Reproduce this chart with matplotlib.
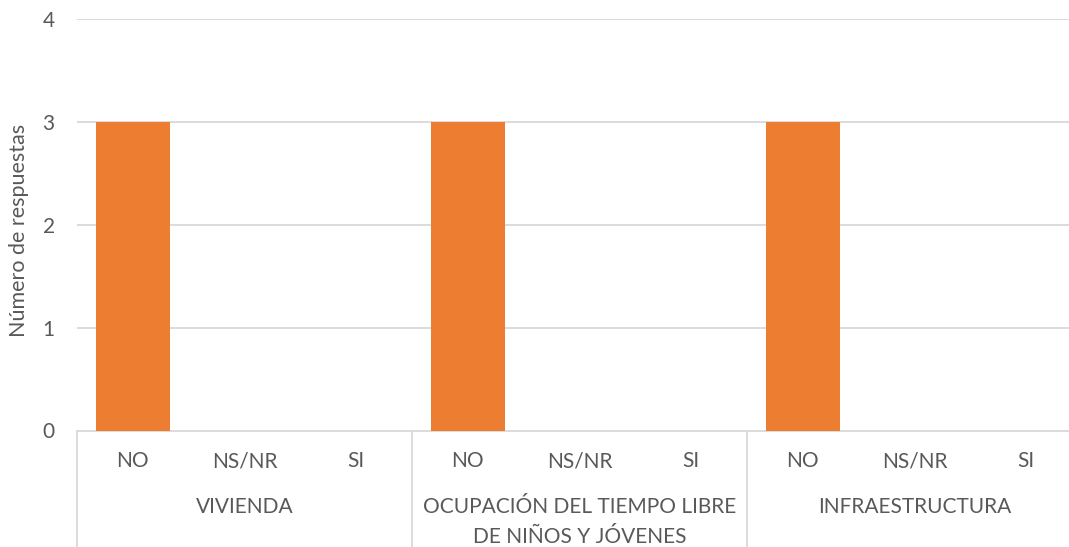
import matplotlib
matplotlib.use("Agg")
import matplotlib.pyplot as plt
from matplotlib.transforms import blended_transform_factory

groups = ["VIVIENDA", "OCUPACIÓN DEL TIEMPO LIBRE\nDE NIÑOS Y JÓVENES", "INFRAESTRUCTURA"]
answers = ["NO", "NS/NR", "SI"]
vivienda = [3, 0, 0]
ocupacion = [3, 0, 0]
infraestructura = [3, 0, 0]
series = [vivienda, ocupacion, infraestructura]
y_ticks = [0, 1, 2, 3, 4]
y_label = "Número de respuestas"

BAR = "#ED7D31"
TXT = "#595959"
GRID = "#D9D9D9"
FONT = "Lato"
FS = 15

W, H = 1069, 547
fig = plt.figure(figsize=(W / 100, H / 100), dpi=100)
x0, x1 = 77, 1082
ytop, ybot = 19, 430.5
ax = fig.add_axes([x0 / W, 1 - ybot / H, (x1 - x0) / W, (ybot - ytop) / H])

n = len(answers)
xs, vals = [], []
for gi, vals_g in enumerate(series):
    for ai, v in enumerate(vals_g):
        xs.append(gi * n + ai)
        vals.append(v)
ax.bar(xs, vals, width=0.665, color=BAR, zorder=3)

ax.set_xlim(-0.5, len(groups) * n - 0.5)
ax.set_ylim(0, 4)
ax.set_yticks(y_ticks)
ax.set_yticklabels([str(t) for t in y_ticks], fontsize=FS, color=TXT, family=FONT)
ax.tick_params(axis="y", length=0, pad=16)
ax.set_xticks([])
for t in y_ticks[1:]:
    ax.axhline(t, color=GRID, lw=1.3, zorder=1)
for s in ["top", "right", "left"]:
    ax.spines[s].set_visible(False)
ax.spines["bottom"].set_color(GRID)
ax.spines["bottom"].set_linewidth(1.3)

# px -> axes y coordinate
def ay(py):
    return (ybot - py) / (ybot - ytop)

trans = blended_transform_factory(ax.transData, ax.transAxes)
for gi, g in enumerate(groups):
    for ai, a in enumerate(answers):
        ax.text(gi * n + ai, ay(461), a, transform=trans, ha="center", va="center",
                fontsize=FS, color=TXT, family=FONT, clip_on=False)
    lines = g.split("\n")
    for li, line in enumerate(lines):
        ax.text(gi * n + (n - 1) / 2, ay(507 + 30 * li), line, transform=trans,
                ha="center", va="center", fontsize=FS, color=TXT, family=FONT, clip_on=False)

for gi in range(len(groups) + 1):
    xb = gi * n - 0.5
    ax.plot([xb, xb], [0, ay(560)], transform=trans, color=GRID, lw=1.3, clip_on=False)

fig.text(19 / W, 1 - 230 / H, y_label, rotation=90, ha="center", va="center",
         fontsize=15.5, color=TXT, family=FONT)

fig.savefig("out.png", dpi=100)
